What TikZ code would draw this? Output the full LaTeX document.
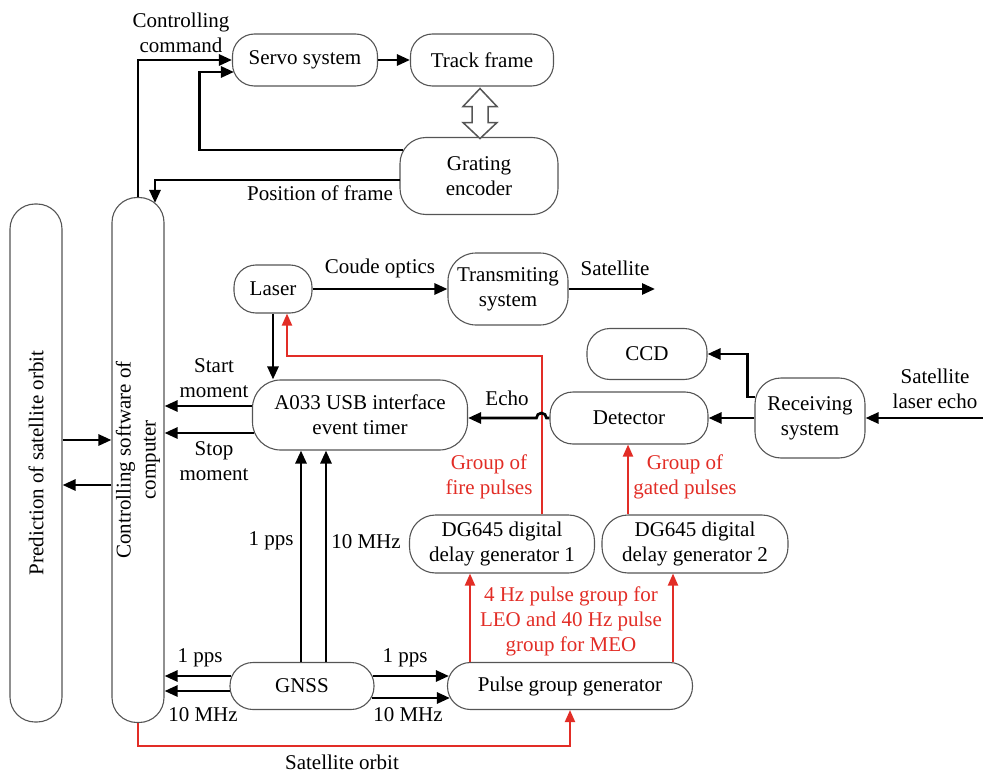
\documentclass[tikz,border=0pt]{standalone}
\usepackage{fontspec}
\setmainfont{Liberation Serif}
\usetikzlibrary{arrows.meta,calc}
\definecolor{myred}{RGB}{226,45,38}
\definecolor{bord}{RGB}{85,85,85}
\newcommand{\fz}{\fontsize{21}{25}\selectfont}
\begin{document}
\begin{tikzpicture}[x=1pt,y=-1pt,
 box/.style n args={3}{draw=bord,line width=1.1pt,rounded corners=#3,minimum width=#1,minimum height=#2,align=center,inner sep=0pt,font=\fz},
 lbl/.style={align=center,inner sep=0pt,font=\fz},
 rlbl/.style={lbl,text=myred},
 arr/.style={line width=2.7pt,-{Triangle[length=13pt,width=11pt]}},
 rarr/.style={draw=myred,line width=2pt,-{Triangle[length=12pt,width=10pt]}},
 hollow/.style={draw=bord,line width=1.5pt,fill=white,line join=miter}]
\useasboundingbox (0,0) rectangle (983,773);
% nodes
\node[box={145pt}{52pt}{22pt}] (servo) at (305,60) {Servo system};
\node[box={143pt}{52pt}{22pt}] (track) at (482,60) {Track frame};
\node[box={158pt}{77pt}{26pt}] (grat) at (479,176) {Grating\\encoder};
\node[box={78pt}{48pt}{22pt}] (laser) at (273,289) {Laser};
\node[box={120pt}{72pt}{28pt}] (trans) at (508,289) {Transmiting\\system};
\node[box={120pt}{51pt}{23pt}] (ccd) at (647,354) {CCD};
\node[box={215pt}{70pt}{28pt}] (a033) at (360,415) {A033 USB interface\\event timer};
\node[box={158pt}{52pt}{23pt}] (det) at (629,418) {Detector};
\node[box={110pt}{80pt}{26pt}] (recv) at (810,418) {Receiving\\system};
\node[box={185pt}{58pt}{26pt}] (dg1) at (502,544) {DG645 digital\\delay generator 1};
\node[box={186pt}{58pt}{26pt}] (dg2) at (695,544) {DG645 digital\\delay generator 2};
\node[box={144pt}{47pt}{23pt}] (gnss) at (302,686) {GNSS};
\node[box={245pt}{47pt}{23pt}] (pgg) at (570,686) {Pulse group generator};
\node[box={525pt}{52pt}{25pt},rotate=90] (comp) at (138,460) {Controlling software of\\computer};
\node[box={518pt}{52pt}{25pt},rotate=90] (pred) at (36,463) {Prediction of satellite orbit};
% helper coordinates
\coordinate (y440) at (0,440);
\coordinate (y485) at (0,485);
\coordinate (satout) at (655,289);
\coordinate (echoin) at (983,418);
\coordinate (st) at ($(a033.west)+(0,-9)$);
\coordinate (sp) at ($(a033.west)+(2,18)$);
\coordinate (gl1) at ($(gnss.west)+(2,-10)$);
\coordinate (gl2) at ($(gnss.west)+(0.5,5)$);
\coordinate (g1) at ($(gnss.north)+(-1,0)$);
\coordinate (g2) at ($(gnss.north)+(24,0)$);
\coordinate (gp) at ($(dg2.north)+(-67,0)$);
\coordinate (p1) at ($(pgg.north)+(-100,0)$);
\coordinate (p2) at ($(pgg.north)+(103,0)$);
% hollow double arrow
\draw[hollow] ($(track.south)+(-2,2)$) -- ++(17,18) -- ++(-9,0) -- ++(0,16) -- ++(9,0) -- ++(-17,16) -- ++(-17,-16) -- ++(9,0) -- ++(0,-16) -- ++(-9,0) -- cycle;
% black connectors
\draw[arr] (comp.east) |- (servo.west);
\draw[arr] (servo.east) -- (track.west);
\draw[arr] ($(grat.west)+(4,-26)$) -- ++(-204,0) |- ($(servo.west)+(2,12)$);
\draw[arr] ($(grat.west)+(1,4)$) -| ($(comp.east)+(17,6)$);
\draw[arr] (laser.south) -- (laser.south |- a033.north);
\draw[arr] (laser.east) -- (trans.west);
\draw[arr] (trans.east) -- (satout);
\draw[arr] (st) -- (comp.south |- st);
\draw[arr] (sp) -- (comp.south |- sp);
\draw[arr] (pred.south |- y440) -- (comp.north |- y440);
\draw[arr] (comp.north |- y485) -- (pred.south |- y485);
\draw[arr] (g1) -- (g1 |- a033.south);
\draw[arr] (g2) -- (g2 |- a033.south);
\draw[arr] (gl1) -- (comp.south |- gl1);
\draw[arr] (gl2) -- (comp.south |- gl2);
\draw[arr] ($(gnss.east)+(-2,-10)$) -- ($(pgg.west)+(2,-10)$);
\draw[arr] ($(gnss.east)+(-3,12)$) -- ($(pgg.west)+(3,12)$);
\draw[arr] (recv.west) -- (det.east);
\draw[arr] ($(recv.west)+(1,-21)$) -- ++(-8,0) |- (ccd.east);
\draw[arr] (echoin) -- (recv.east);
% red connectors
\draw[rarr] ($(dg1.north)+(40,0)$) -- ++(0,-158) -| ($(laser.south)+(14,0)$);
\draw[rarr] (gp) -- (gp |- det.south);
\draw[rarr] (p1) -- (p1 |- dg1.south);
\draw[rarr] (p2) -- (p2 |- dg2.south);
\draw[rarr] (comp.west) -- ++(0,23) -| (pgg.south);
% echo with hop
\draw[arr] (det.west) -- ($(det.west)+(-3,0)$) arc[start angle=0,end angle=-180,radius=5] -- (a033.east |- det.west);
% labels
\node[lbl] (lcc) at (181,33) {Controlling\\command};
\node[lbl] (lpf) at (320,193) {Position of frame};
\node[lbl] (lco) at (380,268) {Coude optics};
\node[lbl] (lsat) at (615,268) {Satellite};
\node[lbl] (lst) at (214,378) {Start\\moment};
\node[lbl] (lsp) at (214,461) {Stop\\moment};
\node[lbl] (lecho) at (507,398) {Echo};
\node[lbl] (lsle) at (935,389) {Satellite\\laser echo};
\node[rlbl] (lfire) at (489,477) {Group of\\fire pulses};
\node[rlbl] (lgate) at (685,477) {Group of\\gated pulses};
\node[lbl] (l1v) at (271,541) {1 pps};
\node[lbl] (l10v) at (366,542) {10 MHz};
\node[rlbl] (lhz) at (571,621) {4 Hz pulse group for\\LEO and 40 Hz pulse\\group for MEO};
\node[lbl] (l1l) at (200,658) {1 pps};
\node[lbl] (l10l) at (203,715) {10 MHz};
\node[lbl] (l1r) at (405,658) {1 pps};
\node[lbl] (l10r) at (408,715) {10 MHz};
\node[lbl] (lorb) at (342,762) {Satellite orbit};
\end{tikzpicture}
\end{document}
